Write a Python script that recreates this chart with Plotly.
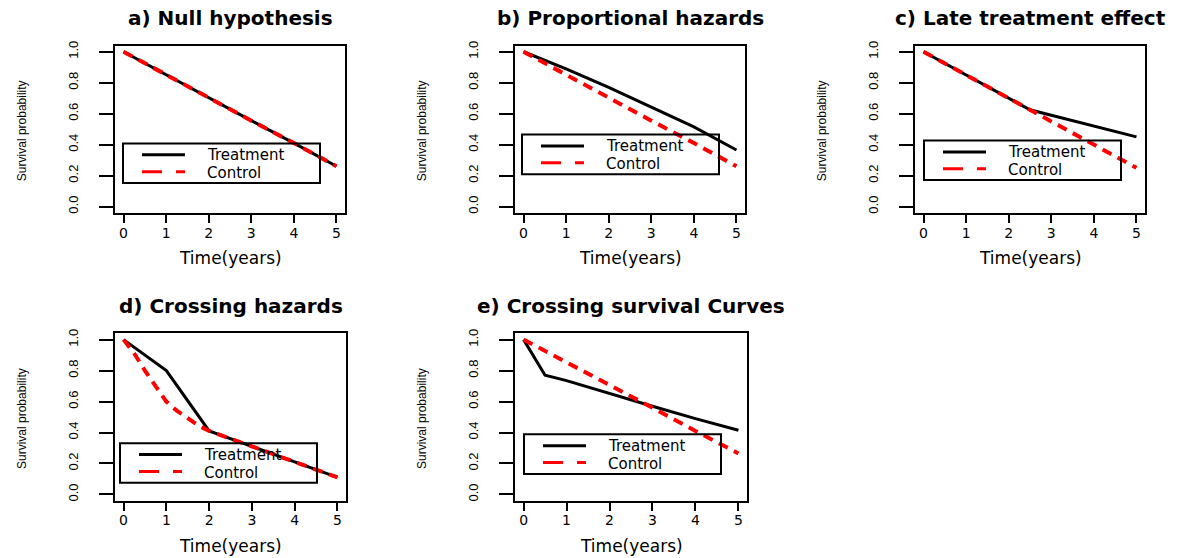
import plotly.graph_objects as go

W, H = 1198, 558

# ---------------- data ----------------
x_ticks = [0, 1, 2, 3, 4, 5]
y_ticks = [0.0, 0.2, 0.4, 0.6, 0.8, 1.0]

# a) Null hypothesis
a_time = [0, 1, 2, 3, 4, 5]
a_treat = [1.0, 0.85, 0.70, 0.555, 0.41, 0.26]
a_ctrl = [1.0, 0.85, 0.70, 0.555, 0.41, 0.26]

# b) Proportional hazards
b_time = [0, 1, 2, 3, 4, 5]
b_treat = [1.0, 0.89, 0.77, 0.645, 0.515, 0.365]
b_ctrl = [1.0, 0.85, 0.70, 0.555, 0.41, 0.26]

# c) Late treatment effect
c_time_t = [0, 0.5, 1, 1.5, 2, 2.5, 3, 3.5, 4, 4.5, 5]
c_treat = [1.0, 0.925, 0.85, 0.775, 0.70, 0.625, 0.59, 0.555, 0.52, 0.485, 0.45]
c_time_c = [0, 1, 2, 3, 4, 5]
c_ctrl = [1.0, 0.85, 0.70, 0.55, 0.40, 0.25]

# d) Crossing hazards
d_time_t = [0, 1, 2, 3, 4, 5]
d_treat = [1.0, 0.80, 0.41, 0.31, 0.21, 0.11]
d_time_c = [0, 0.25, 0.5, 0.75, 1, 1.25, 1.5, 1.75, 2, 3, 4, 5]
d_ctrl = [1.0, 0.91, 0.80, 0.70, 0.60, 0.54, 0.49, 0.445, 0.41, 0.31, 0.21, 0.11]

# e) Crossing survival curves
e_time_t = [0, 0.5, 1, 2, 3, 4, 5]
e_treat = [1.0, 0.77, 0.735, 0.65, 0.57, 0.49, 0.415]
e_time_c = [0, 1, 2, 3, 4, 5]
e_ctrl = [1.0, 0.855, 0.705, 0.56, 0.41, 0.265]

titles = ["a) Null hypothesis", "b) Proportional hazards", "c) Late treatment effect",
          "d) Crossing hazards", "e) Crossing survival Curves"]
legend_labels = ["Treatment", "Control"]
x_title = "Time(years)"
y_title = "Survival probability"

series = [
    (a_time, a_treat, a_time, a_ctrl),
    (b_time, b_treat, b_time, b_ctrl),
    (c_time_t, c_treat, c_time_c, c_ctrl),
    (d_time_t, d_treat, d_time_c, d_ctrl),
    (e_time_t, e_treat, e_time_c, e_ctrl),
]

# ---------------- layout (pixel geometry) ----------------
boxes = [(115, 345, 41, 210), (515, 745, 41, 210), (915, 1145, 41, 210),
         (115, 346, 332, 501), (515, 747, 332, 501)]
legend_pos = [(123, 140), (522, 131), (924, 137), (120, 443), (524, 434)]
title_y = [13, 13, 13, 304, 304]
xlab_y = [256, 256, 256, 547, 547]
ylab_x = [22, 422, 822, 22, 422]


def px(x):
    return x / W


def py(y):
    return 1 - y / H


fig = go.Figure()
layout = dict(
    width=W, height=H,
    margin=dict(l=0, r=0, t=0, b=0),
    paper_bgcolor="white", plot_bgcolor="white",
    showlegend=False,
)
shapes = []
annotations = []

TXT = "DejaVu Sans"
ARIAL = "Liberation Sans"

for i, (tt, tv, ct, cv) in enumerate(series):
    sfx = "" if i == 0 else str(i + 1)
    xa, ya = "x" + sfx, "y" + sfx
    fig.add_trace(go.Scatter(x=tt, y=tv, mode="lines", name=legend_labels[0],
                             line=dict(color="black", width=3),
                             xaxis=xa, yaxis=ya))
    fig.add_trace(go.Scatter(x=ct, y=cv, mode="lines", name=legend_labels[1],
                             line=dict(color="red", width=4, dash="10px,7px"),
                             xaxis=xa, yaxis=ya))
    l, r, t, b = boxes[i]
    layout["xaxis" + sfx] = dict(
        domain=[px(l), px(r)], anchor=ya, range=[-0.2, 5.2],
        tickvals=x_ticks, ticktext=[str(v) for v in x_ticks],
        ticks="outside", ticklen=8, tickwidth=1.5, tickcolor="black",
        showline=True, mirror=True, linecolor="black", linewidth=2,
        showgrid=False, zeroline=False, ticklabelstandoff=-2,
        tickfont=dict(family=TXT, size=14, color="black"),
    )
    layout["yaxis" + sfx] = dict(
        domain=[py(b), py(t)], anchor=xa, range=[-0.04, 1.04],
        tickvals=y_ticks, ticktext=["%.1f" % v for v in y_ticks],
        ticks="outside", ticklen=14, tickwidth=1.5, tickcolor="black",
        showline=True, mirror=True, linecolor="black", linewidth=2,
        showgrid=False, zeroline=False, tickangle=-90, ticklabelstandoff=16,
        tickfont=dict(family=ARIAL, size=13, color="black"),
    )
    annotations.append(dict(text="<b>%s</b>" % titles[i], x=px((l + r) / 2), y=py(title_y[i]),
                            xref="paper", yref="paper", showarrow=False,
                            xanchor="center", yanchor="middle",
                            font=dict(family=TXT, size=20, color="black")))
    annotations.append(dict(text=x_title, x=px((l + r) / 2), y=py(xlab_y[i]),
                            xref="paper", yref="paper", showarrow=False,
                            xanchor="center", yanchor="middle",
                            font=dict(family=TXT, size=17, color="black")))
    annotations.append(dict(text=y_title, x=px(ylab_x[i]), y=py((t + b) / 2 + 2),
                            xref="paper", yref="paper", showarrow=False, textangle=-90,
                            xanchor="center", yanchor="middle",
                            font=dict(family=ARIAL, size=12, color="black")))
    # legend (transparent background, as in the reference)
    lx, ly = legend_pos[i]
    shapes.append(dict(type="rect", xref="paper", yref="paper",
                       x0=px(lx), x1=px(lx + 197), y0=py(ly), y1=py(ly + 40),
                       line=dict(color="black", width=2), fillcolor="rgba(0,0,0,0)",
                       layer="above"))
    row_y = [ly + 12, ly + 30]
    shapes.append(dict(type="line", xref="paper", yref="paper",
                       x0=px(lx + 19), x1=px(lx + 62), y0=py(row_y[0] - 0.5), y1=py(row_y[0] - 0.5),
                       line=dict(color="black", width=3), layer="above"))
    shapes.append(dict(type="line", xref="paper", yref="paper",
                       x0=px(lx + 19), x1=px(lx + 62), y0=py(row_y[1] - 1.5), y1=py(row_y[1] - 1.5),
                       line=dict(color="red", width=3, dash="20px,14px"), layer="above"))
    for k, lab in enumerate(legend_labels):
        annotations.append(dict(text=lab, x=px(lx + 82), y=py(row_y[k]),
                                xref="paper", yref="paper", showarrow=False,
                                xanchor="left", yanchor="middle",
                                font=dict(family=TXT, size=15, color="black")))

layout["shapes"] = shapes
layout["annotations"] = annotations
fig.update_layout(**layout)
fig.write_html("out.html")
